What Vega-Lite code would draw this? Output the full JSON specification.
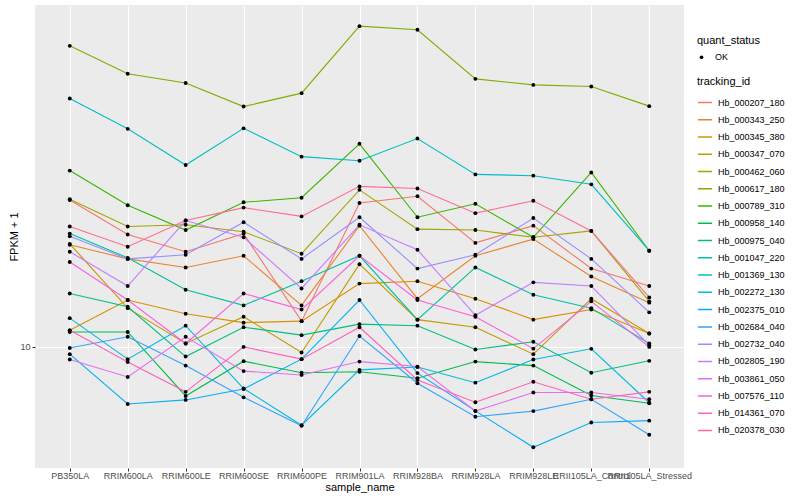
{
"$schema": "https://vega.github.io/schema/vega-lite/v6.json",
"width": 649, "height": 463,
"autosize": {"type": "none"},
"padding": {"left": 35, "top": 5, "right": 116, "bottom": 32},
"background": "white",
"config": {
  "view": {"fill": "#EBEBEB", "stroke": null},
  "font": "Liberation Sans",
  "axis": {"domain": false, "tickColor": "#333333", "tickSize": 3, "tickWidth": 1, "labelColor": "#4D4D4D", "labelFontSize": 9, "labelFont": "Liberation Sans", "titleFont": "Liberation Sans", "titleFontSize": 11, "titleFontWeight": "normal", "titleColor": "black", "grid": true, "gridColor": "white", "gridWidth": 1.1},
  "legend": {"titleFont": "Liberation Sans", "labelFont": "Liberation Sans", "titleFontSize": 11, "titleFontWeight": "normal", "titleColor": "black", "labelFontSize": 9, "labelColor": "black"}
},
"data": {"values": [
{"id":"Hb_000207_180","sample":"PB350LA","fpkm":23.3,"status":"OK"},
{"id":"Hb_000207_180","sample":"RRIM600LA","fpkm":19.1,"status":"OK"},
{"id":"Hb_000207_180","sample":"RRIM600LE","fpkm":17.3,"status":"OK"},
{"id":"Hb_000207_180","sample":"RRIM600SE","fpkm":19.2,"status":"OK"},
{"id":"Hb_000207_180","sample":"RRIM600PE","fpkm":11.6,"status":"OK"},
{"id":"Hb_000207_180","sample":"RRIM901LA","fpkm":22.9,"status":"OK"},
{"id":"Hb_000207_180","sample":"RRIM928BA","fpkm":23.8,"status":"OK"},
{"id":"Hb_000207_180","sample":"RRIM928LA","fpkm":18.2,"status":"OK"},
{"id":"Hb_000207_180","sample":"RRIM928LE","fpkm":20.1,"status":"OK"},
{"id":"Hb_000207_180","sample":"RRII105LA_Control","fpkm":15.7,"status":"OK"},
{"id":"Hb_000207_180","sample":"RRII105LA_Stressed","fpkm":14.2,"status":"OK"},
{"id":"Hb_000343_250","sample":"PB350LA","fpkm":18.0,"status":"OK"},
{"id":"Hb_000343_250","sample":"RRIM600LA","fpkm":16.6,"status":"OK"},
{"id":"Hb_000343_250","sample":"RRIM600LE","fpkm":15.8,"status":"OK"},
{"id":"Hb_000343_250","sample":"RRIM600SE","fpkm":16.9,"status":"OK"},
{"id":"Hb_000343_250","sample":"RRIM600PE","fpkm":12.7,"status":"OK"},
{"id":"Hb_000343_250","sample":"RRIM901LA","fpkm":20.1,"status":"OK"},
{"id":"Hb_000343_250","sample":"RRIM928BA","fpkm":13.2,"status":"OK"},
{"id":"Hb_000343_250","sample":"RRIM928LA","fpkm":16.9,"status":"OK"},
{"id":"Hb_000343_250","sample":"RRIM928LE","fpkm":18.6,"status":"OK"},
{"id":"Hb_000343_250","sample":"RRII105LA_Control","fpkm":15.0,"status":"OK"},
{"id":"Hb_000343_250","sample":"RRII105LA_Stressed","fpkm":12.9,"status":"OK"},
{"id":"Hb_000345_380","sample":"PB350LA","fpkm":11.0,"status":"OK"},
{"id":"Hb_000345_380","sample":"RRIM600LA","fpkm":13.1,"status":"OK"},
{"id":"Hb_000345_380","sample":"RRIM600LE","fpkm":12.1,"status":"OK"},
{"id":"Hb_000345_380","sample":"RRIM600SE","fpkm":11.5,"status":"OK"},
{"id":"Hb_000345_380","sample":"RRIM600PE","fpkm":11.6,"status":"OK"},
{"id":"Hb_000345_380","sample":"RRIM901LA","fpkm":14.4,"status":"OK"},
{"id":"Hb_000345_380","sample":"RRIM928BA","fpkm":14.6,"status":"OK"},
{"id":"Hb_000345_380","sample":"RRIM928LA","fpkm":13.2,"status":"OK"},
{"id":"Hb_000345_380","sample":"RRIM928LE","fpkm":11.7,"status":"OK"},
{"id":"Hb_000345_380","sample":"RRII105LA_Control","fpkm":12.4,"status":"OK"},
{"id":"Hb_000345_380","sample":"RRII105LA_Stressed","fpkm":10.8,"status":"OK"},
{"id":"Hb_000347_070","sample":"PB350LA","fpkm":18.1,"status":"OK"},
{"id":"Hb_000347_070","sample":"RRIM600LA","fpkm":12.5,"status":"OK"},
{"id":"Hb_000347_070","sample":"RRIM600LE","fpkm":10.2,"status":"OK"},
{"id":"Hb_000347_070","sample":"RRIM600SE","fpkm":11.9,"status":"OK"},
{"id":"Hb_000347_070","sample":"RRIM600PE","fpkm":9.68,"status":"OK"},
{"id":"Hb_000347_070","sample":"RRIM901LA","fpkm":16.1,"status":"OK"},
{"id":"Hb_000347_070","sample":"RRIM928BA","fpkm":11.7,"status":"OK"},
{"id":"Hb_000347_070","sample":"RRIM928LA","fpkm":11.2,"status":"OK"},
{"id":"Hb_000347_070","sample":"RRIM928LE","fpkm":9.59,"status":"OK"},
{"id":"Hb_000347_070","sample":"RRII105LA_Control","fpkm":13.2,"status":"OK"},
{"id":"Hb_000347_070","sample":"RRII105LA_Stressed","fpkm":10.8,"status":"OK"},
{"id":"Hb_000462_060","sample":"PB350LA","fpkm":23.4,"status":"OK"},
{"id":"Hb_000462_060","sample":"RRIM600LA","fpkm":20.0,"status":"OK"},
{"id":"Hb_000462_060","sample":"RRIM600LE","fpkm":20.2,"status":"OK"},
{"id":"Hb_000462_060","sample":"RRIM600SE","fpkm":19.4,"status":"OK"},
{"id":"Hb_000462_060","sample":"RRIM600PE","fpkm":17.1,"status":"OK"},
{"id":"Hb_000462_060","sample":"RRIM901LA","fpkm":24.7,"status":"OK"},
{"id":"Hb_000462_060","sample":"RRIM928BA","fpkm":19.7,"status":"OK"},
{"id":"Hb_000462_060","sample":"RRIM928LA","fpkm":19.6,"status":"OK"},
{"id":"Hb_000462_060","sample":"RRIM928LE","fpkm":18.8,"status":"OK"},
{"id":"Hb_000462_060","sample":"RRII105LA_Control","fpkm":19.5,"status":"OK"},
{"id":"Hb_000462_060","sample":"RRII105LA_Stressed","fpkm":13.0,"status":"OK"},
{"id":"Hb_000617_180","sample":"PB350LA","fpkm":56.6,"status":"OK"},
{"id":"Hb_000617_180","sample":"RRIM600LA","fpkm":48.2,"status":"OK"},
{"id":"Hb_000617_180","sample":"RRIM600LE","fpkm":45.7,"status":"OK"},
{"id":"Hb_000617_180","sample":"RRIM600SE","fpkm":39.9,"status":"OK"},
{"id":"Hb_000617_180","sample":"RRIM600PE","fpkm":43.1,"status":"OK"},
{"id":"Hb_000617_180","sample":"RRIM901LA","fpkm":63.4,"status":"OK"},
{"id":"Hb_000617_180","sample":"RRIM928BA","fpkm":62.1,"status":"OK"},
{"id":"Hb_000617_180","sample":"RRIM928LA","fpkm":46.8,"status":"OK"},
{"id":"Hb_000617_180","sample":"RRIM928LE","fpkm":45.2,"status":"OK"},
{"id":"Hb_000617_180","sample":"RRII105LA_Control","fpkm":44.8,"status":"OK"},
{"id":"Hb_000617_180","sample":"RRII105LA_Stressed","fpkm":40.0,"status":"OK"},
{"id":"Hb_000789_310","sample":"PB350LA","fpkm":27.6,"status":"OK"},
{"id":"Hb_000789_310","sample":"RRIM600LA","fpkm":22.6,"status":"OK"},
{"id":"Hb_000789_310","sample":"RRIM600LE","fpkm":19.6,"status":"OK"},
{"id":"Hb_000789_310","sample":"RRIM600SE","fpkm":23.0,"status":"OK"},
{"id":"Hb_000789_310","sample":"RRIM600PE","fpkm":23.6,"status":"OK"},
{"id":"Hb_000789_310","sample":"RRIM901LA","fpkm":32.2,"status":"OK"},
{"id":"Hb_000789_310","sample":"RRIM928BA","fpkm":21.1,"status":"OK"},
{"id":"Hb_000789_310","sample":"RRIM928LA","fpkm":22.8,"status":"OK"},
{"id":"Hb_000789_310","sample":"RRIM928LE","fpkm":18.8,"status":"OK"},
{"id":"Hb_000789_310","sample":"RRII105LA_Control","fpkm":27.3,"status":"OK"},
{"id":"Hb_000789_310","sample":"RRII105LA_Stressed","fpkm":17.4,"status":"OK"},
{"id":"Hb_000958_140","sample":"PB350LA","fpkm":10.9,"status":"OK"},
{"id":"Hb_000958_140","sample":"RRIM600LA","fpkm":10.9,"status":"OK"},
{"id":"Hb_000958_140","sample":"RRIM600LE","fpkm":7.54,"status":"OK"},
{"id":"Hb_000958_140","sample":"RRIM600SE","fpkm":9.21,"status":"OK"},
{"id":"Hb_000958_140","sample":"RRIM600PE","fpkm":8.62,"status":"OK"},
{"id":"Hb_000958_140","sample":"RRIM901LA","fpkm":8.67,"status":"OK"},
{"id":"Hb_000958_140","sample":"RRIM928BA","fpkm":8.35,"status":"OK"},
{"id":"Hb_000958_140","sample":"RRIM928LA","fpkm":9.19,"status":"OK"},
{"id":"Hb_000958_140","sample":"RRIM928LE","fpkm":8.98,"status":"OK"},
{"id":"Hb_000958_140","sample":"RRII105LA_Control","fpkm":7.56,"status":"OK"},
{"id":"Hb_000958_140","sample":"RRII105LA_Stressed","fpkm":7.23,"status":"OK"},
{"id":"Hb_000975_040","sample":"PB350LA","fpkm":13.6,"status":"OK"},
{"id":"Hb_000975_040","sample":"RRIM600LA","fpkm":12.6,"status":"OK"},
{"id":"Hb_000975_040","sample":"RRIM600LE","fpkm":9.46,"status":"OK"},
{"id":"Hb_000975_040","sample":"RRIM600SE","fpkm":11.2,"status":"OK"},
{"id":"Hb_000975_040","sample":"RRIM600PE","fpkm":10.7,"status":"OK"},
{"id":"Hb_000975_040","sample":"RRIM901LA","fpkm":11.4,"status":"OK"},
{"id":"Hb_000975_040","sample":"RRIM928BA","fpkm":11.3,"status":"OK"},
{"id":"Hb_000975_040","sample":"RRIM928LA","fpkm":9.85,"status":"OK"},
{"id":"Hb_000975_040","sample":"RRIM928LE","fpkm":10.3,"status":"OK"},
{"id":"Hb_000975_040","sample":"RRII105LA_Control","fpkm":8.62,"status":"OK"},
{"id":"Hb_000975_040","sample":"RRII105LA_Stressed","fpkm":9.23,"status":"OK"},
{"id":"Hb_001047_220","sample":"PB350LA","fpkm":19.2,"status":"OK"},
{"id":"Hb_001047_220","sample":"RRIM600LA","fpkm":16.7,"status":"OK"},
{"id":"Hb_001047_220","sample":"RRIM600LE","fpkm":13.9,"status":"OK"},
{"id":"Hb_001047_220","sample":"RRIM600SE","fpkm":12.7,"status":"OK"},
{"id":"Hb_001047_220","sample":"RRIM600PE","fpkm":14.6,"status":"OK"},
{"id":"Hb_001047_220","sample":"RRIM901LA","fpkm":16.9,"status":"OK"},
{"id":"Hb_001047_220","sample":"RRIM928BA","fpkm":11.7,"status":"OK"},
{"id":"Hb_001047_220","sample":"RRIM928LA","fpkm":15.8,"status":"OK"},
{"id":"Hb_001047_220","sample":"RRIM928LE","fpkm":13.5,"status":"OK"},
{"id":"Hb_001047_220","sample":"RRII105LA_Control","fpkm":12.5,"status":"OK"},
{"id":"Hb_001047_220","sample":"RRII105LA_Stressed","fpkm":10.2,"status":"OK"},
{"id":"Hb_001369_130","sample":"PB350LA","fpkm":41.8,"status":"OK"},
{"id":"Hb_001369_130","sample":"RRIM600LA","fpkm":35.1,"status":"OK"},
{"id":"Hb_001369_130","sample":"RRIM600LE","fpkm":28.5,"status":"OK"},
{"id":"Hb_001369_130","sample":"RRIM600SE","fpkm":35.2,"status":"OK"},
{"id":"Hb_001369_130","sample":"RRIM600PE","fpkm":29.9,"status":"OK"},
{"id":"Hb_001369_130","sample":"RRIM901LA","fpkm":29.2,"status":"OK"},
{"id":"Hb_001369_130","sample":"RRIM928BA","fpkm":33.2,"status":"OK"},
{"id":"Hb_001369_130","sample":"RRIM928LA","fpkm":27.0,"status":"OK"},
{"id":"Hb_001369_130","sample":"RRIM928LE","fpkm":26.8,"status":"OK"},
{"id":"Hb_001369_130","sample":"RRII105LA_Control","fpkm":25.5,"status":"OK"},
{"id":"Hb_001369_130","sample":"RRII105LA_Stressed","fpkm":17.4,"status":"OK"},
{"id":"Hb_002272_130","sample":"PB350LA","fpkm":11.8,"status":"OK"},
{"id":"Hb_002272_130","sample":"RRIM600LA","fpkm":9.32,"status":"OK"},
{"id":"Hb_002272_130","sample":"RRIM600LE","fpkm":11.3,"status":"OK"},
{"id":"Hb_002272_130","sample":"RRIM600SE","fpkm":7.87,"status":"OK"},
{"id":"Hb_002272_130","sample":"RRIM600PE","fpkm":6.37,"status":"OK"},
{"id":"Hb_002272_130","sample":"RRIM901LA","fpkm":8.76,"status":"OK"},
{"id":"Hb_002272_130","sample":"RRIM928BA","fpkm":8.91,"status":"OK"},
{"id":"Hb_002272_130","sample":"RRIM928LA","fpkm":8.14,"status":"OK"},
{"id":"Hb_002272_130","sample":"RRIM928LE","fpkm":9.30,"status":"OK"},
{"id":"Hb_002272_130","sample":"RRII105LA_Control","fpkm":9.89,"status":"OK"},
{"id":"Hb_002272_130","sample":"RRII105LA_Stressed","fpkm":7.25,"status":"OK"},
{"id":"Hb_002375_010","sample":"PB350LA","fpkm":9.59,"status":"OK"},
{"id":"Hb_002375_010","sample":"RRIM600LA","fpkm":7.20,"status":"OK"},
{"id":"Hb_002375_010","sample":"RRIM600LE","fpkm":7.37,"status":"OK"},
{"id":"Hb_002375_010","sample":"RRIM600SE","fpkm":7.85,"status":"OK"},
{"id":"Hb_002375_010","sample":"RRIM600PE","fpkm":9.32,"status":"OK"},
{"id":"Hb_002375_010","sample":"RRIM901LA","fpkm":13.1,"status":"OK"},
{"id":"Hb_002375_010","sample":"RRIM928BA","fpkm":8.60,"status":"OK"},
{"id":"Hb_002375_010","sample":"RRIM928LA","fpkm":6.92,"status":"OK"},
{"id":"Hb_002375_010","sample":"RRIM928LE","fpkm":5.61,"status":"OK"},
{"id":"Hb_002375_010","sample":"RRII105LA_Control","fpkm":6.47,"status":"OK"},
{"id":"Hb_002375_010","sample":"RRII105LA_Stressed","fpkm":6.54,"status":"OK"},
{"id":"Hb_002684_040","sample":"PB350LA","fpkm":9.94,"status":"OK"},
{"id":"Hb_002684_040","sample":"RRIM600LA","fpkm":10.6,"status":"OK"},
{"id":"Hb_002684_040","sample":"RRIM600LE","fpkm":8.98,"status":"OK"},
{"id":"Hb_002684_040","sample":"RRIM600SE","fpkm":7.48,"status":"OK"},
{"id":"Hb_002684_040","sample":"RRIM600PE","fpkm":6.35,"status":"OK"},
{"id":"Hb_002684_040","sample":"RRIM901LA","fpkm":10.65,"status":"OK"},
{"id":"Hb_002684_040","sample":"RRIM928BA","fpkm":8.11,"status":"OK"},
{"id":"Hb_002684_040","sample":"RRIM928LA","fpkm":6.69,"status":"OK"},
{"id":"Hb_002684_040","sample":"RRIM928LE","fpkm":6.91,"status":"OK"},
{"id":"Hb_002684_040","sample":"RRII105LA_Control","fpkm":7.40,"status":"OK"},
{"id":"Hb_002684_040","sample":"RRII105LA_Stressed","fpkm":6.03,"status":"OK"},
{"id":"Hb_002732_040","sample":"PB350LA","fpkm":18.9,"status":"OK"},
{"id":"Hb_002732_040","sample":"RRIM600LA","fpkm":16.6,"status":"OK"},
{"id":"Hb_002732_040","sample":"RRIM600LE","fpkm":17.0,"status":"OK"},
{"id":"Hb_002732_040","sample":"RRIM600SE","fpkm":20.5,"status":"OK"},
{"id":"Hb_002732_040","sample":"RRIM600PE","fpkm":16.6,"status":"OK"},
{"id":"Hb_002732_040","sample":"RRIM901LA","fpkm":21.1,"status":"OK"},
{"id":"Hb_002732_040","sample":"RRIM928BA","fpkm":15.7,"status":"OK"},
{"id":"Hb_002732_040","sample":"RRIM928LA","fpkm":17.0,"status":"OK"},
{"id":"Hb_002732_040","sample":"RRIM928LE","fpkm":21.0,"status":"OK"},
{"id":"Hb_002732_040","sample":"RRII105LA_Control","fpkm":16.6,"status":"OK"},
{"id":"Hb_002732_040","sample":"RRII105LA_Stressed","fpkm":12.2,"status":"OK"},
{"id":"Hb_002805_190","sample":"PB350LA","fpkm":17.3,"status":"OK"},
{"id":"Hb_002805_190","sample":"RRIM600LA","fpkm":14.2,"status":"OK"},
{"id":"Hb_002805_190","sample":"RRIM600LE","fpkm":20.7,"status":"OK"},
{"id":"Hb_002805_190","sample":"RRIM600SE","fpkm":18.8,"status":"OK"},
{"id":"Hb_002805_190","sample":"RRIM600PE","fpkm":14.0,"status":"OK"},
{"id":"Hb_002805_190","sample":"RRIM901LA","fpkm":20.2,"status":"OK"},
{"id":"Hb_002805_190","sample":"RRIM928BA","fpkm":17.5,"status":"OK"},
{"id":"Hb_002805_190","sample":"RRIM928LA","fpkm":12.0,"status":"OK"},
{"id":"Hb_002805_190","sample":"RRIM928LE","fpkm":14.5,"status":"OK"},
{"id":"Hb_002805_190","sample":"RRII105LA_Control","fpkm":14.2,"status":"OK"},
{"id":"Hb_002805_190","sample":"RRII105LA_Stressed","fpkm":10.1,"status":"OK"},
{"id":"Hb_003861_050","sample":"PB350LA","fpkm":9.30,"status":"OK"},
{"id":"Hb_003861_050","sample":"RRIM600LA","fpkm":8.41,"status":"OK"},
{"id":"Hb_003861_050","sample":"RRIM600LE","fpkm":10.6,"status":"OK"},
{"id":"Hb_003861_050","sample":"RRIM600SE","fpkm":8.70,"status":"OK"},
{"id":"Hb_003861_050","sample":"RRIM600PE","fpkm":8.51,"status":"OK"},
{"id":"Hb_003861_050","sample":"RRIM901LA","fpkm":9.19,"status":"OK"},
{"id":"Hb_003861_050","sample":"RRIM928BA","fpkm":8.93,"status":"OK"},
{"id":"Hb_003861_050","sample":"RRIM928LA","fpkm":6.91,"status":"OK"},
{"id":"Hb_003861_050","sample":"RRIM928LE","fpkm":7.69,"status":"OK"},
{"id":"Hb_003861_050","sample":"RRII105LA_Control","fpkm":7.69,"status":"OK"},
{"id":"Hb_003861_050","sample":"RRII105LA_Stressed","fpkm":7.40,"status":"OK"},
{"id":"Hb_007576_110","sample":"PB350LA","fpkm":16.3,"status":"OK"},
{"id":"Hb_007576_110","sample":"RRIM600LA","fpkm":13.1,"status":"OK"},
{"id":"Hb_007576_110","sample":"RRIM600LE","fpkm":10.2,"status":"OK"},
{"id":"Hb_007576_110","sample":"RRIM600SE","fpkm":13.6,"status":"OK"},
{"id":"Hb_007576_110","sample":"RRIM600PE","fpkm":12.4,"status":"OK"},
{"id":"Hb_007576_110","sample":"RRIM901LA","fpkm":16.9,"status":"OK"},
{"id":"Hb_007576_110","sample":"RRIM928BA","fpkm":13.1,"status":"OK"},
{"id":"Hb_007576_110","sample":"RRIM928LA","fpkm":11.9,"status":"OK"},
{"id":"Hb_007576_110","sample":"RRIM928LE","fpkm":9.90,"status":"OK"},
{"id":"Hb_007576_110","sample":"RRII105LA_Control","fpkm":13.0,"status":"OK"},
{"id":"Hb_007576_110","sample":"RRII105LA_Stressed","fpkm":10.0,"status":"OK"},
{"id":"Hb_014361_070","sample":"PB350LA","fpkm":11.0,"status":"OK"},
{"id":"Hb_014361_070","sample":"RRIM600LA","fpkm":9.17,"status":"OK"},
{"id":"Hb_014361_070","sample":"RRIM600LE","fpkm":7.72,"status":"OK"},
{"id":"Hb_014361_070","sample":"RRIM600SE","fpkm":10.0,"status":"OK"},
{"id":"Hb_014361_070","sample":"RRIM600PE","fpkm":9.32,"status":"OK"},
{"id":"Hb_014361_070","sample":"RRIM901LA","fpkm":11.2,"status":"OK"},
{"id":"Hb_014361_070","sample":"RRIM928BA","fpkm":8.27,"status":"OK"},
{"id":"Hb_014361_070","sample":"RRIM928LA","fpkm":7.27,"status":"OK"},
{"id":"Hb_014361_070","sample":"RRIM928LE","fpkm":8.18,"status":"OK"},
{"id":"Hb_014361_070","sample":"RRII105LA_Control","fpkm":7.40,"status":"OK"},
{"id":"Hb_014361_070","sample":"RRII105LA_Stressed","fpkm":7.72,"status":"OK"},
{"id":"Hb_020378_030","sample":"PB350LA","fpkm":20.0,"status":"OK"},
{"id":"Hb_020378_030","sample":"RRIM600LA","fpkm":17.8,"status":"OK"},
{"id":"Hb_020378_030","sample":"RRIM600LE","fpkm":20.7,"status":"OK"},
{"id":"Hb_020378_030","sample":"RRIM600SE","fpkm":22.3,"status":"OK"},
{"id":"Hb_020378_030","sample":"RRIM600PE","fpkm":21.2,"status":"OK"},
{"id":"Hb_020378_030","sample":"RRIM901LA","fpkm":25.2,"status":"OK"},
{"id":"Hb_020378_030","sample":"RRIM928BA","fpkm":24.9,"status":"OK"},
{"id":"Hb_020378_030","sample":"RRIM928LA","fpkm":21.6,"status":"OK"},
{"id":"Hb_020378_030","sample":"RRIM928LE","fpkm":23.2,"status":"OK"},
{"id":"Hb_020378_030","sample":"RRII105LA_Control","fpkm":19.5,"status":"OK"},
{"id":"Hb_020378_030","sample":"RRII105LA_Stressed","fpkm":13.3,"status":"OK"}
]},
"encoding": {
  "x": {"field": "sample", "type": "nominal", "sort": ["PB350LA","RRIM600LA","RRIM600LE","RRIM600SE","RRIM600PE","RRIM901LA","RRIM928BA","RRIM928LA","RRIM928LE","RRII105LA_Control","RRII105LA_Stressed"], "scale": {"type": "point", "padding": 0.6}, "axis": {"title": "sample_name", "labelAngle": 0, "labelPadding": 0, "titlePadding": 1, "labelOverlap": false}},
  "y": {"field": "fpkm", "type": "quantitative", "scale": {"type": "log", "domain": [4.98, 71.6], "nice": false, "zero": false}, "axis": {"title": "FPKM + 1", "values": [10], "labelPadding": 2, "titlePadding": 0}}
},
"layer": [
  {"mark": {"type": "line", "strokeWidth": 1.1},
   "encoding": {
     "color": {"field": "id", "type": "nominal",
       "scale": {"domain": ["Hb_000207_180","Hb_000343_250","Hb_000345_380","Hb_000347_070","Hb_000462_060","Hb_000617_180","Hb_000789_310","Hb_000958_140","Hb_000975_040","Hb_001047_220","Hb_001369_130","Hb_002272_130","Hb_002375_010","Hb_002684_040","Hb_002732_040","Hb_002805_190","Hb_003861_050","Hb_007576_110","Hb_014361_070","Hb_020378_030"],
                 "range": ["#F8766D","#EA8331","#D89000","#C09B00","#A3A500","#7CAE00","#39B600","#00BB4E","#00BF7D","#00C1A3","#00BFC4","#00BAE0","#00B0F6","#35A2FF","#9590FF","#C77CFF","#E76BF3","#FA62DB","#FF62BC","#FF6C91"]},
       "legend": {"title": "tracking_id", "orient": "none", "legendX": 662, "legendY": 71, "clipHeight": 17, "rowPadding": 0.26, "symbolSize": 200, "symbolStrokeWidth": 1.5, "labelOffset": 5, "titlePadding": 7}}
   }},
  {"mark": {"type": "point", "filled": true, "color": "black", "opacity": 1, "size": 15},
   "encoding": {
     "shape": {"field": "status", "type": "nominal", "scale": {"range": ["circle"]},
       "legend": {"title": "quant_status", "orient": "none", "legendX": 662, "legendY": 30, "clipHeight": 16.5, "rowPadding": 0, "symbolSize": 14, "symbolFillColor": "black", "symbolStrokeColor": "black", "labelOffset": 9, "titlePadding": 3}}
   }}
]
}
